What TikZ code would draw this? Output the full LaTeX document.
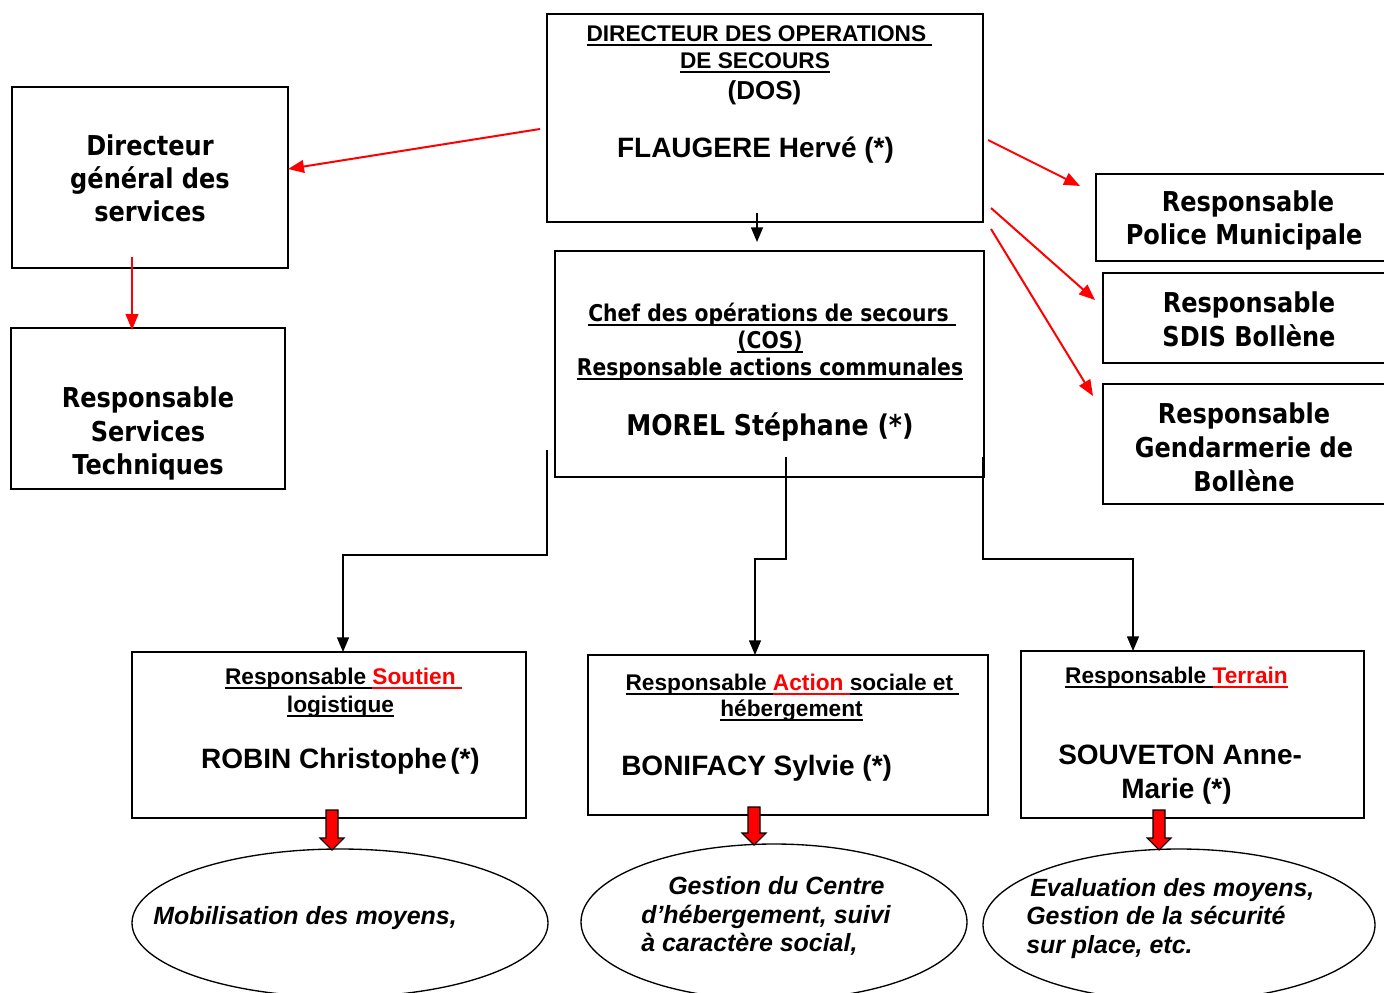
\documentclass[tikz,border=0pt]{standalone}
\usepackage{fontspec}
\setmainfont{Liberation Sans}
\newfontfamily\tah{DejaVu Sans}[FakeStretch=0.88]
\usetikzlibrary{arrows.meta,calc,shapes.geometric}
\newcommand\fsz[1]{\fontsize{#1}{#1}\selectfont}
\newcommand\ulw[1]{\setbox0\hbox{#1}\rlap{\raisebox{-3.6pt}{\rule{\wd0}{1.4pt}}}\box0}
\begin{document}
\begin{tikzpicture}[x=0.75pt,y=-0.75pt,
  box/.style={draw, line width=1.3pt, inner sep=0pt, outer sep=0pt},
  dims/.style 2 args={minimum width=#1*0.75pt, minimum height=#2*0.75pt},
  ell/.style={draw, ellipse, line width=1pt, inner sep=0pt, outer sep=0pt},
  t/.style={inner sep=0pt, anchor=base},
  tl/.style={inner sep=0pt, anchor=base west},
  ta/.style={font=\tah\bfseries\fsz{20.5}},
  tas/.style={font=\tah\bfseries\fsz{17.3}},
  tan/.style={font=\tah\bfseries\fsz{21.4}},
  ar/.style={font=\bfseries\fsz{17}},
  arn/.style={font=\bfseries\fsz{21}},
  ari/.style={font=\bfseries\itshape\fsz{18.7}},
  redar/.style={draw=red, line width=1.5pt, -{Triangle[length=12pt,width=9.5pt]}},
  conn/.style={draw=black, line width=1pt, -{Triangle[length=11pt,width=9pt]}},
  blockar/.style={draw=black, fill=red, line width=0.8pt, line join=miter}
]
\fill[white] (0,0) rectangle (1384,992);
\useasboundingbox (0,0) rectangle (1384,992);

% boxes
\node[box, dims={436}{208}] (DOS) at (765,118) {};
\node[box, dims={429}{226}] (COS) at (769.5,364) {};
\node[box, dims={276}{181}] (DGS) at (150,177.5) {};
\node[box, dims={274}{161}] (RST) at (148,408.5) {};
\node[box, dims={294}{87}]  (POL) at (1243,217.5) {};
\node[box, dims={287}{90}]  (SDIS) at (1246.5,318) {};
\node[box, dims={287}{120}] (GEN) at (1246.5,444) {};
\node[box, dims={394}{166}] (SOU) at (329,735) {};
\node[box, dims={400}{160}] (ACT) at (788,735) {};
\node[box, dims={343}{167}] (TER) at (1192.5,734.5) {};

% ellipses
\node[ell, dims={416}{148}] (E1) at (340,923) {};
\node[ell, dims={386}{156}] (E2) at (774,922) {};
\node[ell, dims={392}{152}] (E3) at (1179,925) {};

% DOS text
\node[t, ar] (d1) at (759.5,41) {\ulw{DIRECTEUR DES OPERATIONS\ }};
\node[t, ar] (d2) at (755,68) {\ulw{DE SECOURS}};
\node[t, font=\bfseries\fsz{19.5}] (d3) at (764.5,99) {(DOS)};
\node[t, arn] (d4) at (755.5,157) {FLAUGERE Hervé (*)};

% COS text
\node[t, tas] (c1) at (772,321) {\ulw{Chef des opérations de secours\ }};
\node[t, tas] (c2) at (770,348) {\ulw{(COS)}};
\node[t, tas] (c3) at (770,375) {\ulw{Responsable actions communales}};
\node[t, tan] (c4) at (770,435) {MOREL Stéphane (*)};

% DGS
\node[t, ta] (g1) at (150,155) {Directeur};
\node[t, ta] (g2) at (150,188) {général des};
\node[t, ta] (g3) at (150,221) {services};
% RST
\node[t, ta] (r1) at (148,407) {Responsable};
\node[t, ta] (r2) at (148,441) {Services};
\node[t, ta] (r3) at (148,474) {Techniques};
% POL
\node[t, ta] (p1) at (1248,211) {Responsable};
\node[t, ta] (p2) at (1244,244) {Police Municipale};
% SDIS
\node[t, ta] (s1) at (1249,312) {Responsable};
\node[t, ta] (s2) at (1249,346) {SDIS Bollène};
% GEN
\node[t, ta] (n1) at (1244,423) {Responsable};
\node[t, ta] (n2) at (1244,457) {Gendarmerie de};
\node[t, ta] (n3) at (1244,491) {Bollène};

% SOU
\node[t, ar] (u1) at (343.5,684) {\ulw{Responsable\ }\textcolor{red}{\ulw{Soutien\ }}};
\node[t, ar] (u2) at (340.5,712) {\ulw{logistique}};
\node[t, arn] (u3) at (340.5,768) {ROBIN Christophe\hspace{0.12em}(*)};
% ACT
\node[t, ar] (a1) at (792.5,690) {\ulw{Responsable\ }\textcolor{red}{\ulw{Action\ }}\ulw{sociale et\ }};
\node[t, ar] (a2) at (791.5,716) {\ulw{hébergement}};
\node[tl, arn] (a3) at (621,775) {BONIFACY Sylvie (*)};
% TER
\node[t, ar] (e1) at (1176.5,683) {\ulw{Responsable\ }\textcolor{red}{\ulw{Terrain}}};
\node[tl, arn] (e2) at (1058,764) {SOUVETON Anne-};
\node[t, arn] (e3) at (1176.5,798) {Marie (*)};

% ellipse texts
\node[tl, ari] (m1) at (153,924) {Mobilisation des moyens,};
\node[tl, ari] (h1) at (668,894) {Gestion du Centre};
\node[tl, ari] (h2) at (641,923) {d’hébergement, suivi};
\node[tl, ari] (h3) at (641,951) {à caractère social,};
\node[tl, ari] (v1) at (1030,896) {Evaluation des moyens,};
\node[tl, ari] (v2) at (1026,924) {Gestion de la sécurité};
\node[tl, ari] (v3) at (1026,953) {sur place, etc.};

% connectors
\draw[conn] ($(DOS.south)+(-8,-9)$) -- ($(COS.north)+(-12.5,-9)$);
\draw[redar] ($(DOS.west)+(-7,11)$) -- ($(DGS.east)+(0,-8.5)$);
\draw[redar] ($(DGS.south)+(-18,-11)$) -- ($(RST.north)+(-16,2)$);
\draw[redar] ($(DOS.east)+(5,22)$) -- ($(POL.west)+(-16,-31.5)$);
\draw[redar] ($(DOS.east)+(8,90)$) -- ($(SDIS.west)+(-8,-18)$);
\draw[redar] ($(DOS.east)+(8,111)$) -- ($(GEN.west)+(-10,-48)$);

\coordinate (k1) at ($(COS.west)+(-8,86)$);
\coordinate (k2) at ($(COS.south)+(16.5,-20)$);
\coordinate (k3) at ($(COS.south east)+(-1,-20)$);
\draw[conn] (k1) -- ++(0,105) -| ($(SOU.north)+(14,0)$);
\draw[conn] (k2) -- ++(0,102) -| ($(ACT.north)+(-33,0)$);
\draw[conn] (k3) -- ++(0,102) -| ($(TER.north)+(-59.5,0)$);

% block arrows
\coordinate (b1) at ($(SOU.south)+(3,-8)$);
\coordinate (b2) at ($(ACT.south)+(-34,-8)$);
\coordinate (b3) at ($(TER.south)+(-33.5,-8)$);
\draw[blockar] (b1) ++(-6,0) -- ++(12,0) -- ++(0,28) -- ++(6,0) -- ++(-12,12) -- ++(-12,-12) -- ++(6,0) -- cycle;
\draw[blockar] (b2) ++(-6,0) -- ++(12,0) -- ++(0,26) -- ++(6,0) -- ++(-12,12) -- ++(-12,-12) -- ++(6,0) -- cycle;
\draw[blockar] (b3) ++(-6,0) -- ++(12,0) -- ++(0,28) -- ++(6,0) -- ++(-12,12) -- ++(-12,-12) -- ++(6,0) -- cycle;
\end{tikzpicture}
\end{document}
